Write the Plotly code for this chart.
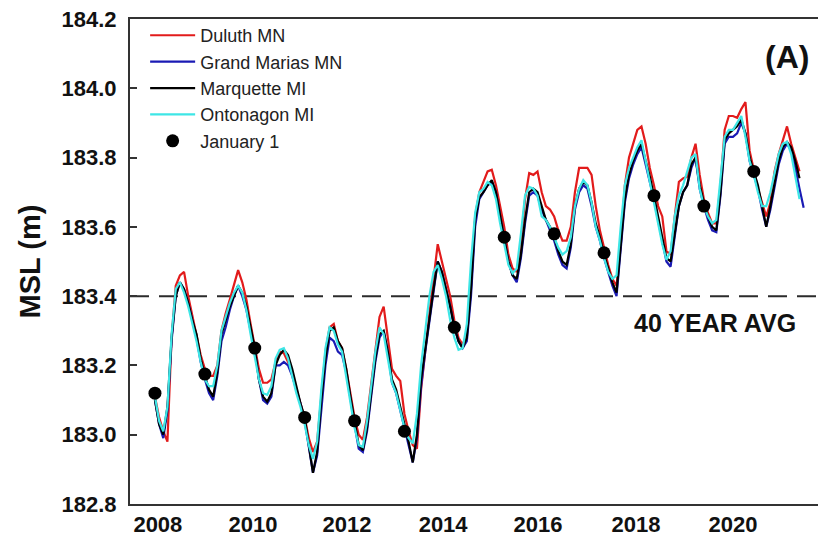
import plotly.graph_objects as go

# Monthly mean lake level (m), Jan 2008 onward; index 0 = Jan 2008
duluth = [
    183.11, 183.05, 183.01, 182.98, 183.28, 183.43, 183.46, 183.47, 183.40, 183.34, 183.29, 183.23,
    183.19, 183.17, 183.17, 183.20, 183.30, 183.35, 183.39, 183.43, 183.475, 183.44, 183.39, 183.32,
    183.26, 183.19, 183.15, 183.15, 183.16, 183.21, 183.24, 183.235, 183.21, 183.18, 183.13, 183.09,
    183.05, 182.99, 182.95, 182.98, 183.10, 183.24, 183.31, 183.32, 183.27, 183.25, 183.19, 183.12,
    183.05, 183.00, 182.985, 183.05, 183.15, 183.25, 183.34, 183.37, 183.28, 183.19, 183.17, 183.155,
    183.06, 183.01, 182.97, 182.96, 183.13, 183.25, 183.35, 183.45, 183.55, 183.50, 183.45, 183.40,
    183.33, 183.28, 183.26, 183.29, 183.43, 183.63, 183.70, 183.73, 183.76, 183.765, 183.72, 183.66,
    183.60, 183.52, 183.48, 183.47, 183.55, 183.68, 183.755, 183.75, 183.76, 183.70, 183.66, 183.65,
    183.63, 183.59, 183.56, 183.56, 183.60, 183.70, 183.77, 183.77, 183.77, 183.75, 183.66, 183.59,
    183.54, 183.49, 183.45, 183.43, 183.55, 183.72, 183.80, 183.84, 183.88, 183.89, 183.84, 183.77,
    183.72, 183.66, 183.63, 183.53, 183.52, 183.63, 183.73, 183.74, 183.745, 183.80, 183.84, 183.75,
    183.68, 183.64, 183.61, 183.61, 183.72, 183.88, 183.92, 183.92, 183.915, 183.94, 183.96, 183.82,
    183.76, 183.71, 183.67, 183.63, 183.67, 183.76, 183.81, 183.85, 183.89, 183.84, 183.80, 183.76,
    None,
]
grand_marais = [
    183.10, 183.03, 182.99, 183.07, 183.27, 183.40, 183.44, 183.42, 183.38, 183.33, 183.28, 183.21,
    183.16, 183.12, 183.10, 183.17, 183.27, 183.31, 183.36, 183.40, 183.43, 183.40, 183.36, 183.30,
    183.25, 183.16, 183.10, 183.09, 183.11, 183.20, 183.20, 183.21, 183.20, 183.17, 183.13, 183.09,
    183.04, 182.96, 182.89, 182.94, 183.08, 183.20, 183.28, 183.27, 183.24, 183.23, 183.18, 183.10,
    183.03, 182.96, 182.95, 183.01, 183.11, 183.21, 183.28, 183.30, 183.24, 183.15, 183.12, 183.07,
    183.02, 182.97, 182.92, 182.99, 183.14, 183.24, 183.33, 183.42, 183.50, 183.47, 183.42, 183.37,
    183.31, 183.27, 183.25, 183.27, 183.40, 183.60, 183.68, 183.70, 183.72, 183.73, 183.70, 183.63,
    183.57, 183.50, 183.46, 183.44, 183.51, 183.61, 183.69, 183.70, 183.69, 183.65, 183.62, 183.59,
    183.56, 183.52, 183.49, 183.48, 183.54, 183.65, 183.70, 183.72, 183.71, 183.66, 183.60, 183.56,
    183.51, 183.47, 183.43, 183.40, 183.53, 183.67, 183.74, 183.78, 183.81, 183.83, 183.78, 183.73,
    183.68, 183.62, 183.56, 183.50, 183.485, 183.57, 183.66, 183.70, 183.72, 183.77, 183.80, 183.71,
    183.66, 183.62, 183.59, 183.585, 183.69, 183.84, 183.86, 183.86, 183.87, 183.90, 183.87, 183.79,
    183.75, 183.71, 183.65, 183.60, 183.65, 183.72, 183.78, 183.82, 183.84, 183.82, 183.77, 183.71,
    183.655,
]
marquette = [
    183.10, 183.03, 183.00, 183.08, 183.28, 183.40, 183.44, 183.42, 183.38, 183.33, 183.29, 183.22,
    183.17, 183.13, 183.11, 183.18, 183.29, 183.33, 183.37, 183.40, 183.43, 183.41, 183.37, 183.31,
    183.25, 183.16, 183.11, 183.095, 183.12, 183.20, 183.23, 183.245, 183.23, 183.19, 183.14, 183.09,
    183.05, 182.97, 182.89, 182.95, 183.10, 183.22, 183.30, 183.31, 183.27, 183.25, 183.19, 183.11,
    183.04, 182.97, 182.955, 183.02, 183.12, 183.22, 183.29, 183.30, 183.24, 183.16, 183.13, 183.08,
    183.03, 182.98, 182.92, 183.00, 183.16, 183.25, 183.33, 183.42, 183.50, 183.47, 183.42, 183.37,
    183.31, 183.27, 183.25, 183.28, 183.42, 183.62, 183.685, 183.70, 183.72, 183.735, 183.70, 183.63,
    183.57, 183.50, 183.46, 183.45, 183.52, 183.62, 183.70, 183.71, 183.70, 183.66, 183.62, 183.60,
    183.57, 183.53, 183.50, 183.49, 183.55, 183.66, 183.71, 183.73, 183.72, 183.67, 183.61, 183.57,
    183.52, 183.48, 183.44, 183.41, 183.55, 183.68, 183.75, 183.79, 183.82, 183.84, 183.79, 183.745,
    183.69, 183.63, 183.57, 183.51, 183.50, 183.58, 183.66, 183.70, 183.72, 183.78, 183.80, 183.72,
    183.67, 183.63, 183.60, 183.59, 183.70, 183.85, 183.87, 183.88, 183.89, 183.91, 183.87, 183.80,
    183.76, 183.72, 183.66, 183.60, 183.66, 183.73, 183.79, 183.83, 183.845, 183.83, 183.79, 183.74,
    None,
]
ontonagon = [
    183.11, 183.04, 183.01, 183.08, 183.29, 183.42, 183.44, 183.41, 183.37, 183.32, 183.27, 183.21,
    183.16, 183.14, 183.14, 183.20, 183.30, 183.34, 183.38, 183.41, 183.43, 183.41, 183.36, 183.29,
    183.23, 183.16, 183.12, 183.115, 183.14, 183.22, 183.245, 183.25, 183.22, 183.17, 183.12, 183.08,
    183.03, 182.97, 182.93, 182.98, 183.13, 183.25, 183.31, 183.30, 183.26, 183.24, 183.17, 183.09,
    183.02, 182.97, 182.965, 183.04, 183.14, 183.24, 183.31, 183.29, 183.22, 183.15, 183.12, 183.07,
    183.02, 182.99, 182.975, 183.06, 183.20, 183.30, 183.40, 183.47, 183.49, 183.45, 183.40, 183.33,
    183.28, 183.245, 183.25, 183.32, 183.50, 183.64, 183.70, 183.71, 183.73, 183.72, 183.68, 183.61,
    183.55, 183.49, 183.466, 183.48, 183.58, 183.69, 183.715, 183.71, 183.69, 183.63, 183.62, 183.60,
    183.57, 183.54, 183.52, 183.53, 183.57, 183.66, 183.71, 183.735, 183.72, 183.67, 183.60, 183.56,
    183.51, 183.47, 183.45, 183.46, 183.60, 183.72, 183.77, 183.80, 183.83, 183.85, 183.79, 183.73,
    183.67, 183.61, 183.55, 183.505, 183.53, 183.63, 183.69, 183.72, 183.76, 183.80, 183.81, 183.71,
    183.66, 183.63, 183.61, 183.62, 183.74, 183.86, 183.88, 183.88, 183.90, 183.92, 183.86, 183.79,
    183.75, 183.70, 183.66, 183.66, 183.70, 183.76, 183.81, 183.84, 183.845, 183.81, 183.75, 183.68,
    None,
]

# January 1 level, 2008-2020
jan1_level = [183.12, 183.175, 183.25, 183.05, 183.04, 183.01, 183.31,
              183.57, 183.58, 183.525, 183.69, 183.66, 183.76]

year_labels = ["2008", "2010", "2012", "2014", "2016", "2018", "2020"]
year_label_pos = [0.7, 23.6, 46.2, 69.3, 92.1, 115.7, 139.0]  # months since Jan 2008

long_term_avg = 183.4

months = list(range(len(marquette)))
jan1_months = [12 * i for i in range(len(jan1_level))]

font_family = "Liberation Sans, Arial, sans-serif"

fig = go.Figure()

series = [
    ("Duluth MN", duluth, "#e21b1b"),
    ("Grand Marias MN", grand_marais, "#1a1ab4"),
    ("Marquette MI", marquette, "#000000"),
    ("Ontonagon MI", ontonagon, "#3ee6e6"),
]
for name, vals, color in series:
    fig.add_trace(go.Scatter(
        x=months, y=vals, mode="lines", name=name,
        line=dict(color=color, width=2.2),
    ))

fig.add_trace(go.Scatter(
    x=jan1_months, y=jan1_level, mode="markers", name="January 1",
    marker=dict(color="black", size=13),
))

# 40-year mean level
fig.add_shape(type="line", xref="paper", x0=0, x1=1, yref="y",
              y0=long_term_avg, y1=long_term_avg, layer="below",
              line=dict(color="#2b2b2b", width=2, dash="19px,10px"))

fig.add_annotation(text="40 YEAR AVG", xref="paper", yref="paper",
                   x=0.850, y=0.373, xanchor="center", yanchor="middle",
                   showarrow=False,
                   font=dict(family=font_family, size=25, color="#111", weight="bold"))
fig.add_annotation(text="(A)", xref="paper", yref="paper",
                   x=0.955, y=0.922, xanchor="center", yanchor="middle",
                   showarrow=False,
                   font=dict(family=font_family, size=32, color="#111", weight="bold"))

fig.update_layout(
    width=818, height=537,
    margin=dict(l=130, r=0, t=19, b=33),
    paper_bgcolor="white", plot_bgcolor="white",
    font=dict(family=font_family, color="#111"),
    showlegend=True,
    legend=dict(x=0.022, y=1.004, xanchor="left", yanchor="top",
                bgcolor="rgba(0,0,0,0)", font=dict(size=18, color="#222"),
                itemwidth=45),
    xaxis=dict(
        range=[-6.0, 159.45], showgrid=False, zeroline=False,
        showline=True, linecolor="#333", linewidth=2, mirror=True,
        ticks="", tickmode="array", tickvals=year_label_pos, ticktext=year_labels,
        tickfont=dict(size=22, family=font_family, weight="bold", color="#111"),
    ),
    yaxis=dict(
        range=[182.8, 184.2], showgrid=False, zeroline=False,
        showline=True, linecolor="#333", linewidth=2, mirror=False,
        ticks="inside", ticklen=7, tickwidth=1.5, tickcolor="#333",
        tickmode="linear", tick0=182.8, dtick=0.2, tickformat=".1f",
        tickfont=dict(size=22, family=font_family, weight="bold", color="#111"),
        ticklabelstandoff=7,
        title=dict(text="MSL (m)",
                   font=dict(size=29, family=font_family, color="#111", weight="bold"),
                   standoff=12),
    ),
)

fig.write_html("out.html")
